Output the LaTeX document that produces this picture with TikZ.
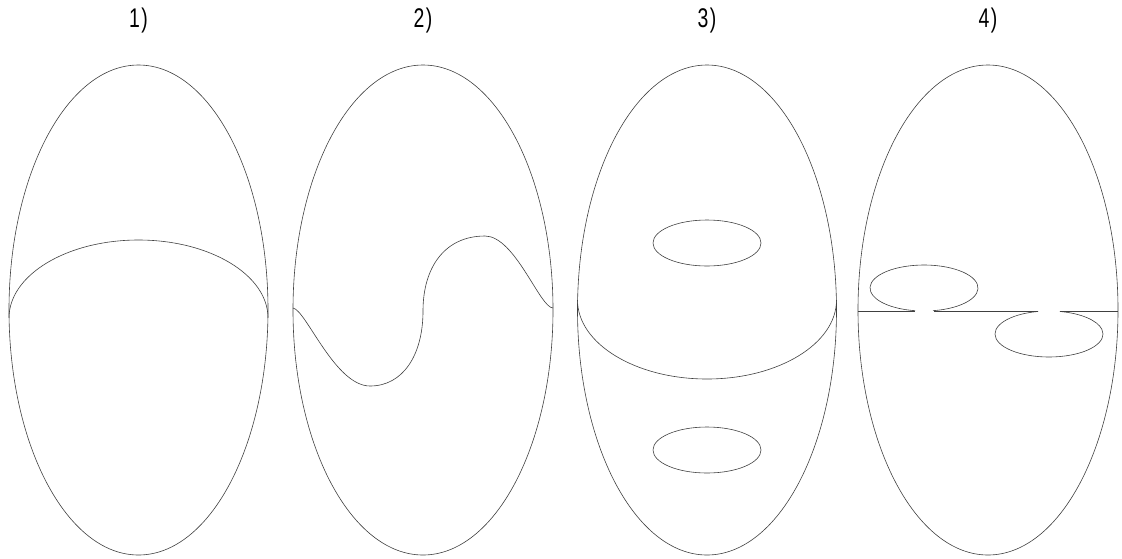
\documentclass[tikz,border=0pt]{standalone}
\usepackage{fontspec}
\newfontfamily\labfont[FakeStretch=0.72]{Liberation Sans}
\begin{document}
\begin{tikzpicture}[x=1pt,y=-1pt,
  curve/.style={line width=0.6pt,draw=black!75},
  lab/.style={font=\labfont\fontsize{27}{30}\selectfont,inner sep=0pt}]
\useasboundingbox (0,0) rectangle (1122,558);
% labels
\node[lab] (l1) at (138.5,21) {1\kern1.5pt)};
\node[lab] (l2) at (423,21) {2\kern1.5pt)};
\node[lab] (l3) at (707,21) {3\kern1.5pt)};
\node[lab] (l4) at (988,21) {4\kern1.5pt)};
% outer ellipses
\draw[curve] (138.5,310) ellipse [x radius=129.5, y radius=245];
\draw[curve] (423,310) ellipse [x radius=130, y radius=245];
\draw[curve] (707,310) ellipse [x radius=129.5, y radius=245];
\draw[curve] (988,310) ellipse [x radius=130, y radius=245];
% 1) upper half arc
\draw[curve] (9,318) arc [start angle=180, end angle=0, x radius=129.5, y radius=-78];
% 2) S-curve
\draw[curve] (293,308) .. controls (306,310) and (335,386) .. (370,386)
  .. controls (403,386) and (423,355) .. (423,311)
  .. controls (423,267) and (445,236) .. (485,236)
  .. controls (515,236) and (540,308) .. (553,308);
% 3) lower half arc and small ellipses
\draw[curve] (577.5,300) arc [start angle=180, end angle=360, x radius=129.5, y radius=-79];
\draw[curve] (707,243) ellipse [x radius=54, y radius=23];
\draw[curve] (707,450) ellipse [x radius=54, y radius=23];
% 4) line with loops
\draw[curve] (858,311) -- (915,311);
\draw[curve] (934,311) -- (1038,311);
\draw[curve] (1060,311) -- (1118,311);
\draw[curve] (924,288) ++(-80.4:54 and -23) arc [start angle=-80.4, end angle=-99.6+360, x radius=54, y radius=-23];
\draw[curve] (1049,334) ++(101.7:54 and -23) arc [start angle=101.7, end angle=78.3+360, x radius=54, y radius=-23];
\end{tikzpicture}
\end{document}
